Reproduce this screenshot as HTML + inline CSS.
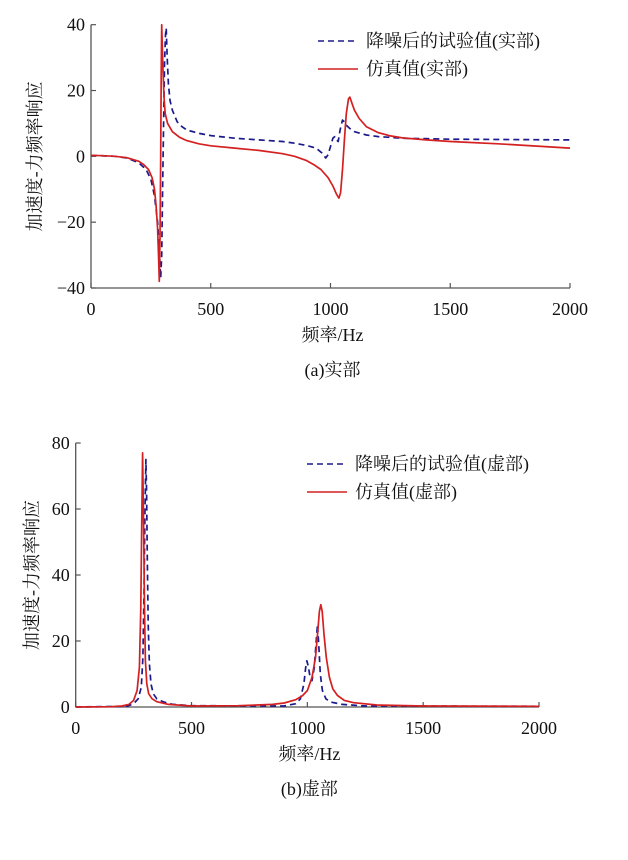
<!DOCTYPE html>
<html><head><meta charset="utf-8"><style>
body{margin:0;background:#fff;}
svg{display:block;font-family:"Liberation Serif","Noto Serif CJK SC","Noto Sans CJK SC",serif;}
</style></head><body>
<svg id="fig" width="628" height="860" viewBox="0 0 628 860"></svg>
<script>
// Chart (a): real part
const realFreqRed = [0,50,100,150,200,220,240,255,265,272,278,282,285,288,291,293,295,300,305,310,320,340,370,400,450,500,600,700,800,850,900,930,960,990,1010,1025,1035,1042,1050,1058,1066,1075,1081,1090,1100,1120,1150,1200,1250,1300,1400,1500,1700,2000];
const realRed = [0.3,0.2,0,-0.4,-1.5,-2.5,-4,-6.5,-10,-15,-22,-30,-38,-25,0,25,40,28,18,13,10,7.5,5.8,4.8,3.8,3.2,2.5,1.8,0.8,0,-1.3,-2.5,-4,-6.5,-9,-11.5,-12.7,-11,-4,5,13,17.5,18,16,14,11.5,9,7.2,6.2,5.6,5,4.5,3.8,2.5];
const realFreqBlue = [0,100,150,200,230,250,265,278,285,291,295,299,303,307,311,314,318,323,330,340,360,380,400,450,500,600,700,800,850,900,940,965,980,990,1000,1010,1018,1025,1032,1040,1050,1058,1065,1080,1100,1150,1200,1300,1500,2000];
const realBlue = [0.3,0,-0.5,-2,-4,-7,-12,-20,-28,-37,-30,-10,10,28,37,39,30,22,17,14,10.5,9,8,7,6.3,5.5,5,4.5,4,3.3,2.5,1,-0.5,0.5,3,5.5,6,5,4.5,8,11,10.5,9.5,8.5,7.5,6.5,6,5.5,5.2,5];
const realYTicks = [-40,-20,0,20,40];
// Chart (b): imaginary part
const imagFreqRed = [0,150,200,230,250,265,275,281,285,289,293,297,301,307,315,330,350,400,500,700,850,900,950,980,1000,1020,1035,1045,1052,1058,1064,1072,1082,1095,1110,1130,1160,1200,1300,1500,2000];
const imagRed = [0,0.1,0.3,0.8,2,5,12,30,55,77,55,30,14,7,4,2.5,1.6,0.8,0.3,0.4,0.8,1.2,2.2,3.5,5,9,15,23,29,31,29,22,15,9,5.5,3.5,2,1.3,0.6,0.3,0.2];
const imagFreqBlue = [0,220,250,270,283,290,295,299,303,306,309,313,318,325,335,350,380,420,500,900,950,970,985,993,998,1005,1012,1020,1030,1038,1044,1050,1056,1065,1080,1100,1150,1250,2000];
const imagBlue = [0,0.2,1,2.5,6,15,35,60,75,65,45,25,13,7,4,2.5,1.5,0.8,0.4,0.3,1,2.5,7,12,14,12,9,8,12,20,25,18,10,5,2.5,1.5,0.8,0.3,0.2];
const imagYTicks = [0,20,40,60,80];
const xTicks = [0,500,1000,1500,2000];

const NS="http://www.w3.org/2000/svg";
const svg=document.getElementById('fig');
function mk(tag,attrs,parent,text){const e=document.createElementNS(NS,tag);for(const k in attrs)e.setAttribute(k,attrs[k]);if(text!==undefined)e.textContent=text;(parent||svg).appendChild(e);return e;}

function chart(o){
  const g=mk('g',{});
  
  
  const sx=v=>o.x0+(v-0)/(2000)*(o.x1-o.x0);
  const sy=v=>o.y0+(v-o.ymin)/(o.ymax-o.ymin)*(o.y1-o.y0);
  const xa=mk('line',{x1:o.x0,y1:o.y0,x2:o.x1,y2:o.y0,stroke:'#555','stroke-width':1.3},g);
  
  
  const ya=mk('line',{x1:o.x0,y1:o.y0,x2:o.x0,y2:o.y1,stroke:'#555','stroke-width':1.3},g);
  
  
  xTicks.forEach(t=>{
    mk('line',{x1:sx(t),y1:o.y0,x2:sx(t),y2:o.y0-5,stroke:'#555','stroke-width':1.2},g);
    const tl=mk('text',{x:sx(t),y:o.y0+27,'text-anchor':'middle','font-size':18,fill:'#111'},g,String(t));
    
    
  });
  o.yt.forEach(t=>{
    mk('line',{x1:o.x0,y1:sy(t),x2:o.x0+5,y2:sy(t),stroke:'#555','stroke-width':1.2},g);
    const tl=mk('text',{x:o.x0-6,y:sy(t)+6,'text-anchor':'end','font-size':18,fill:'#111'},g,(t<0?'\u2212':'')+Math.abs(t));
    
    
  });
  const path=(fx,fy)=>fx.map((f,i)=>(i?'L':'M')+sx(f).toFixed(1)+','+sy(fy[i]).toFixed(1)).join('');
  const b=mk('path',{d:path(o.fb,o.vb),fill:'none',stroke:'#1a1a8c','stroke-width':1.7,'stroke-dasharray':'6,4','stroke-linejoin':'round'},g);
  
  
  const r=mk('path',{d:path(o.fr,o.vr),fill:'none',stroke:'#d42020','stroke-width':1.7,'stroke-linejoin':'round'},g);
  
  
  const lg=mk('g',{},g);
  
  
  mk('line',{x1:o.lx,y1:o.ly,x2:o.lx+40,y2:o.ly,stroke:'#1a1a8c','stroke-width':1.6,'stroke-dasharray':'6,4'},lg);
  const t1=mk('text',{x:o.lx+48,y:o.ly+6,'font-size':18,fill:'#111'},lg,o.l1);
  
  
  mk('line',{x1:o.lx,y1:o.ly+28,x2:o.lx+40,y2:o.ly+28,stroke:'#d42020','stroke-width':1.6},lg);
  const t2=mk('text',{x:o.lx+48,y:o.ly+34,'font-size':18,fill:'#111'},lg,o.l2);
  
  
  const xl=mk('text',{x:(o.x0+o.x1)/2+2,y:o.y0+53,'text-anchor':'middle','font-size':18,fill:'#111'},g,'频率/Hz');
  
  
  const cy=(o.y0+o.y1)/2;
  const yl=mk('text',{x:o.ylx,y:cy,'text-anchor':'middle','font-size':18,fill:'#111',transform:`rotate(-90 ${o.ylx} ${cy})`},g,'加速度-力频率响应');
  
  
  const cap=mk('text',{x:(o.x0+o.x1)/2+2,y:o.y0+88,'text-anchor':'middle','font-size':18,fill:'#111'},g,o.cap);
  
  
}
chart({name:'chart-real-part',x0:91,x1:570,y0:288,y1:24.7,ymin:-40,ymax:40,yt:realYTicks,
  fr:realFreqRed,vr:realRed,fb:realFreqBlue,vb:realBlue,lx:318,ly:41,
  l1:'降噪后的试验值(实部)',l2:'仿真值(实部)',ylx:41,cap:'(a)实部'});
chart({name:'chart-imag-part',x0:75.7,x1:539,y0:707,y1:443,ymin:0,ymax:80,yt:imagYTicks,
  fr:imagFreqRed,vr:imagRed,fb:imagFreqBlue,vb:imagBlue,lx:307,ly:464,
  l1:'降噪后的试验值(虚部)',l2:'仿真值(虚部)',ylx:38,cap:'(b)虚部'});
</script>
</body></html>
